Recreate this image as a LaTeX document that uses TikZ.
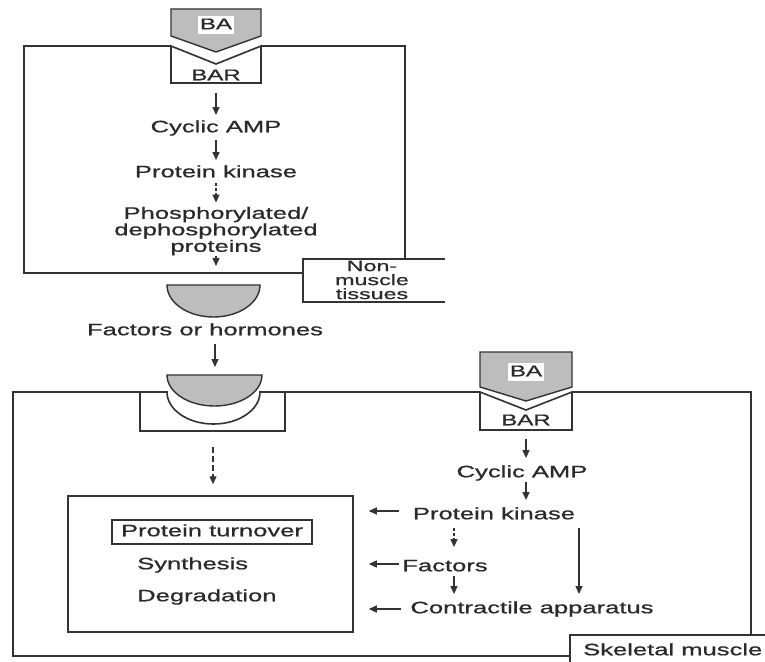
\documentclass[tikz,border=0pt]{standalone}
\usepackage{fontspec}
\setmainfont{Liberation Sans}[FakeStretch=1.55, FakeBold=0.8]
\usetikzlibrary{arrows.meta,calc}
\definecolor{linec}{HTML}{333333}
\definecolor{textc}{HTML}{2A2A2A}
\definecolor{greyf}{HTML}{BDBDBD}
\newcommand\dgmain{\fontsize{16.5pt}{16.5pt}\selectfont}
\newcommand\dgsmall{\fontsize{15.5pt}{15.5pt}\selectfont}
\newcommand\dgnm{\fontsize{15pt}{14pt}\selectfont}
\begin{document}
\begin{tikzpicture}[x=1pt,y=-1pt,
  frame/.style={line width=1.6pt, draw=linec},
  txt/.style={font=\dgmain, text=textc, inner sep=0pt, text height=12pt, text depth=3.5pt},
  mtxt/.style={font=\dgmain, text=textc, inner sep=0pt, align=center},
  arr/.style={-{Triangle[length=8pt,width=7pt]}, line width=1.3pt, draw=linec},
  darr/.style={arr, dash pattern=on 3pt off 2pt},
  ddarr/.style={arr, dash pattern=on 6pt off 3pt},
  greyshape/.style={fill=greyf, draw=linec, line width=1.4pt}]
\useasboundingbox[fill=white] (0,0) rectangle (765,661);

% ---------- top (non-muscle) box ----------
\draw[frame] (171,46) -- (24,46) -- (24,273) -- (303,273);
\draw[frame] (261,46) -- (405,46) -- (405,259);
\draw[frame] (445,259) -- (303,259) -- (303,302) -- (445,302);
\draw[greyshape] (171,9) -- (261,9) -- (261,36) -- (216,52) -- (171,36) -- cycle;
\draw[frame] (171,46) -- (171,83) -- (261,83) -- (261,46) -- (216,64) -- cycle;

\node[txt, font=\dgsmall, fill=white, inner sep=1.5pt] (ba1) at (216,25) {BA};
\node[txt, font=\dgsmall] (bar1) at (216,76) {BAR};
\node[txt] (camp1) at (216,128) {Cyclic AMP};
\node[txt] (pk1) at (216,173) {Protein kinase};
\node[mtxt] (phos) at (216,231) {Phosphorylated/\\dephosphorylated\\proteins};
\coordinate (phend) at (216,266);
\node[font=\dgnm, text=textc, align=center, inner sep=0pt] (nmt) at (372,280) {Non-\\muscle\\tissues};

\draw[arr] ($(bar1.south)+(0,9)$) -- ($(camp1.north)+(0,-5)$);
\draw[arr] ($(camp1.south)+(0,4)$) -- ($(pk1.north)+(0,-5)$);
\draw[darr] ($(pk1.south)+(0,2)$) -- ($(phos.north)+(0,-4)$);
\draw[arr] ($(phos.south)+(0,1)$) -- (phend);

% ---------- factors or hormones ----------
\draw[greyshape] (167,285) -- (260,285) arc[start angle=0, end angle=-180, x radius=46.5pt, y radius=32pt] -- cycle;
\node[txt] (fh) at (205,331) {Factors or hormones};
\coordinate (hm2) at (215,367);
\draw[arr] ($(fh.south)+(10,5)$) -- (hm2);

% ---------- bottom (skeletal muscle) box ----------
\draw[frame] (140,392) -- (13,392) -- (13,656) -- (570,656);
\draw[frame] (140,392) -- (140,431) -- (285,431) -- (285,392) -- (480,392);
\draw[frame] (140,392) -- (167,392) arc[start angle=180, end angle=360, x radius=46.5pt, y radius=32pt] -- (285,392);
\draw[frame] (572,392) -- (751,392) -- (751,635);
\draw[frame] (570,662) -- (570,635) -- (766,635);
\draw[greyshape] (167,375) -- (262,375) arc[start angle=0, end angle=-180, x radius=47.5pt, y radius=31pt] -- cycle;
\node[minimum width=145pt, minimum height=40pt, inner sep=0pt] (rec) at (212.5,411) {};

\draw[greyshape] (480,352) -- (572,352) -- (572,387) -- (526,401) -- (480,387) -- cycle;
\draw[frame] (480,392) -- (480,430) -- (572,430) -- (572,392) -- (526,410) -- cycle;
\node[txt, font=\dgsmall, fill=white, inner sep=1.5pt] (ba2) at (526,372) {BA};
\node[txt, font=\dgsmall] (bar2) at (526,421) {BAR};

\node[txt] (camp2) at (522,473) {Cyclic AMP};
\node[txt] (pk2) at (494,515) {Protein kinase};
\node[txt] (fac) at (445,567) {Factors};
\node[txt] (contr) at (532,609) {Contractile apparatus};
\node[txt, anchor=west] (skel) at (583,651) {Skeletal muscle};

\node[draw=linec, line width=1.5pt, minimum width=285pt, minimum height=136pt, inner sep=0pt] (inner) at (210.5,564) {};
\node[txt, draw=linec, line width=1.3pt, minimum width=200pt, minimum height=24pt] (pturn) at (212,532) {Protein turnover};
\node[txt, anchor=west] (syn) at (137,565) {Synthesis};
\node[txt, anchor=west] (deg) at (137,597) {Degradation};

\draw[arr] ($(bar2.south)+(0,10)$) -- ($(bar2.south |- camp2.north)+(0,-7)$);
\draw[arr] ($(bar2.south |- camp2.south)+(0,1)$) -- ($(bar2.south |- pk2.north)+(0,-7)$);
\draw[darr] ($(pk2.south)+(-40,5)$) -- ($(pk2.south |- fac.north)+(-40,-12)$);
\draw[arr] ($(pk2.south |- fac.south)+(-40,1)$) -- ($(pk2.south |- contr.north)+(-40,-7)$);
\draw[arr] ($(pk2.south)+(85,5)$) -- ($(pk2.south |- contr.north)+(85,-7)$);

\draw[arr] ($(pk2.west)+(-14,-4)$) -- ($(inner.east |- pk2.west)+(15,-4)$);
\draw[arr] ($(fac.west)+(-3,-3)$) -- ($(inner.east |- fac.west)+(15,-3)$);
\draw[arr] ($(contr.west)+(-9,0)$) -- ($(inner.east |- contr.west)+(15,0)$);

\draw[ddarr] ($(rec.south)+(0.5,16)$) -- ($(rec.south |- inner.north)+(0.5,-11)$);
\end{tikzpicture}
\end{document}
